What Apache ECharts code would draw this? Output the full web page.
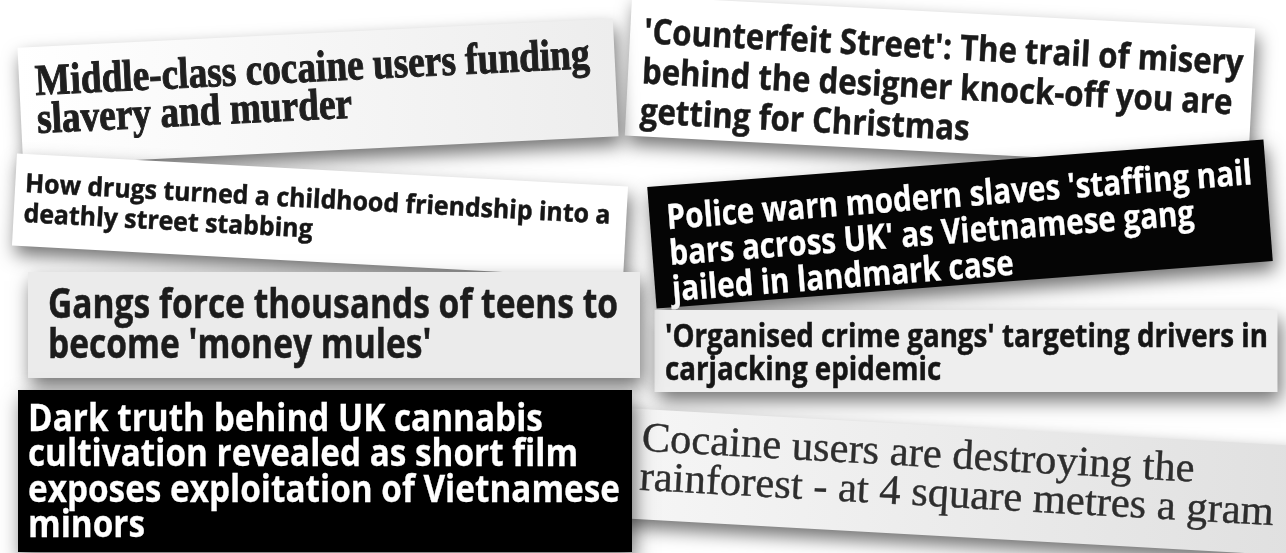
<!DOCTYPE html>
<html><head><meta charset="utf-8">
<script src="https://cdn.jsdelivr.net/npm/echarts@6/dist/echarts.min.js"></script>
<style>html,body{margin:0;padding:0;background:#fff;}#c{width:1286px;height:553px;}</style>
</head><body><div id="c"></div>
<script>
// Headline texts (one array per clipping, one entry per printed line)
const counterfeitLines = ["'Counterfeit Street': The trail of misery", "behind the designer knock-off you are", "getting for Christmas"];
const middleClassLines = ["Middle-class cocaine users funding", "slavery and murder"];
const drugsLines = ["How drugs turned a childhood friendship into a", "deathly street stabbing"];
const policeLines = ["Police warn modern slaves 'staffing nail", "bars across UK' as Vietnamese gang", "jailed in landmark case"];
const carjackLines = ["'Organised crime gangs' targeting drivers in", "carjacking epidemic"];
const gangsLines = ["Gangs force thousands of teens to", "become 'money mules'"];
const rainforestLines = ["Cocaine users are destroying the", "rainforest - at 4 square metres a gram"];
const cannabisLines = ["Dark truth behind UK cannabis", "cultivation revealed as short film", "exposes exploitation of Vietnamese", "minors"];

// Layout / style of each clipping (drawing order = stacking order)
const clippings = [
  {lines: counterfeitLines, cx: 940, cy: 82, w: 624, h: 140, rot: -3.0, fill: '#ffffff', color: '#1a1a1a', family: "'Open Sans'", weight: 700, size: 35, lh: 40, textX: -298, base: -22, textWidth: 600, bold: 0.5},
  {lines: middleClassLines, cx: 318, cy: 92, w: 596, h: 118, rot: 2.8, fill: ['#ffffff', '#ededed'], color: '#1f1f1f', family: "'Liberation Serif'", weight: 700, size: 44, lh: 38, textX: -282, base: -8, textWidth: 555, bold: 1.0},
  {lines: drugsLines, cx: 320, cy: 216, w: 612, h: 92, rot: -3.1, fill: '#ffffff', color: '#161616', family: "'Open Sans'", weight: 700, size: 26, lh: 30, textX: -296, base: -7, textWidth: 586, bold: 0.5},
  {lines: policeLines, cx: 960, cy: 224, w: 618, h: 122, rot: 4.4, fill: '#050505', color: '#ffffff', family: "'Open Sans'", weight: 700, size: 35, lh: 36, textX: -292, base: -16, textWidth: 587, bold: 0.3},
  {lines: carjackLines, cx: 966, cy: 351, w: 623, h: 82, rot: 0, fill: '#eeeeee', color: '#151515', family: "'Open Sans'", weight: 700, size: 33, lh: 33, textX: -301, base: -3, textWidth: 603, bold: 0.5},
  {lines: gangsLines, cx: 334, cy: 325, w: 612, h: 106, rot: 0, fill: '#ebebeb', color: '#1c1c1c', family: "'Open Sans'", weight: 700, size: 41, lh: 40, textX: -286, base: -6, textWidth: 570, bold: 0.5},
  {lines: rainforestLines, cx: 960, cy: 482, w: 680, h: 110, rot: -3.2, fill: ['#f6f6f6', '#e0e0e0'], color: '#2e2e2e', family: "'Liberation Serif'", weight: 400, size: 42, lh: 39, textX: -320, base: -11, textWidth: 635, bold: 0.4},
  {lines: cannabisLines, cx: 325, cy: 471, w: 614, h: 162, rot: 0, fill: '#000000', color: '#ffffff', family: "'Open Sans'", weight: 700, size: 38, lh: 35.5, textX: -297, base: -39, textWidth: 592, bold: 0.3}
];

const measureCtx = document.createElement('canvas').getContext('2d');

function buildClipping(c) {
  const font = c.weight + ' ' + c.size + 'px ' + c.family;
  measureCtx.font = font;
  let maxW = 0;
  c.lines.forEach(function (l) { maxW = Math.max(maxW, measureCtx.measureText(l).width); });
  const sx = c.textWidth / maxW;
  const fill = Array.isArray(c.fill)
    ? new echarts.graphic.LinearGradient(0, 0, 1, 0, [{offset: 0, color: c.fill[0]}, {offset: 1, color: c.fill[1]}])
    : c.fill;
  const children = [{
    type: 'rect',
    shape: {x: -c.w / 2, y: -c.h / 2, width: c.w, height: c.h},
    style: {fill: fill, shadowBlur: 18, shadowColor: 'rgba(0,0,0,0.55)', shadowOffsetX: 3, shadowOffsetY: 9}
  }];
  c.lines.forEach(function (l, i) {
    children.push({
      type: 'text',
      x: c.textX,
      y: c.base + i * c.lh - 0.32 * c.size,
      scaleX: sx,
      style: {text: l, font: font, fill: c.color, stroke: c.color, lineWidth: c.bold, verticalAlign: 'middle', align: 'left'}
    });
  });
  return {type: 'group', x: c.cx, y: c.cy, rotation: c.rot * Math.PI / 180, children: children};
}

const chart = echarts.init(document.getElementById('c'), null, {renderer: 'canvas'});
chart.setOption({
  backgroundColor: '#ffffff',
  animation: false,
  graphic: {elements: clippings.map(buildClipping)}
});
</script>
</body></html>
